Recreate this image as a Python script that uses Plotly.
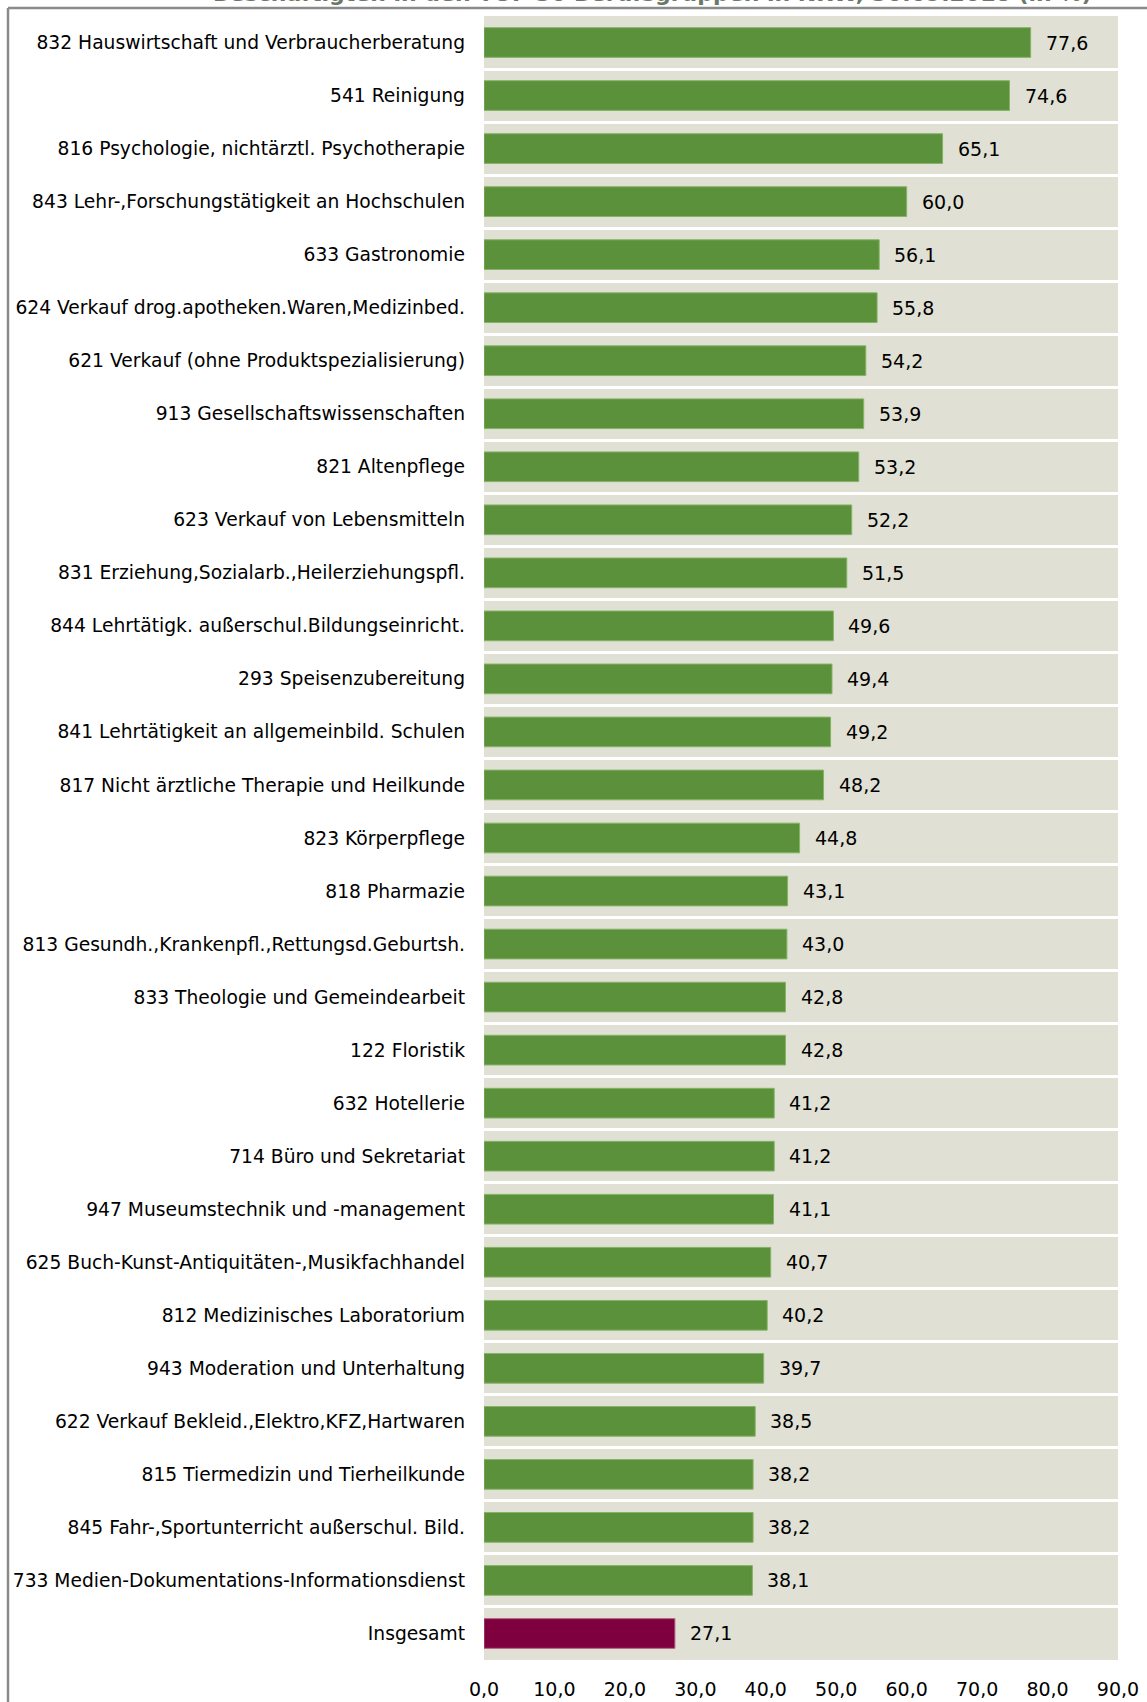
import plotly.graph_objects as go

categories = [
    "832 Hauswirtschaft und Verbraucherberatung",
    "541 Reinigung",
    "816 Psychologie, nichtärztl. Psychotherapie",
    "843 Lehr-,Forschungstätigkeit an Hochschulen",
    "633 Gastronomie",
    "624 Verkauf drog.apotheken.Waren,Medizinbed.",
    "621 Verkauf (ohne Produktspezialisierung)",
    "913 Gesellschaftswissenschaften",
    "821 Altenpflege",
    "623 Verkauf von Lebensmitteln",
    "831 Erziehung,Sozialarb.,Heilerziehungspfl.",
    "844 Lehrtätigk. außerschul.Bildungseinricht.",
    "293 Speisenzubereitung",
    "841 Lehrtätigkeit an allgemeinbild. Schulen",
    "817 Nicht ärztliche Therapie und Heilkunde",
    "823 Körperpflege",
    "818 Pharmazie",
    "813 Gesundh.,Krankenpfl.,Rettungsd.Geburtsh.",
    "833 Theologie und Gemeindearbeit",
    "122 Floristik",
    "632 Hotellerie",
    "714 Büro und Sekretariat",
    "947 Museumstechnik und -management",
    "625 Buch-Kunst-Antiquitäten-,Musikfachhandel",
    "812 Medizinisches Laboratorium",
    "943 Moderation und Unterhaltung",
    "622 Verkauf Bekleid.,Elektro,KFZ,Hartwaren",
    "815 Tiermedizin und Tierheilkunde",
    "845 Fahr-,Sportunterricht außerschul. Bild.",
    "733 Medien-Dokumentations-Informationsdienst",
    "Insgesamt",
]
values = [77.6, 74.6, 65.1, 60.0, 56.1, 55.8, 54.2, 53.9, 53.2, 52.2,
          51.5, 49.6, 49.4, 49.2, 48.2, 44.8, 43.1, 43.0, 42.8, 42.8,
          41.2, 41.2, 41.1, 40.7, 40.2, 39.7, 38.5, 38.2, 38.2, 38.1,
          27.1]
x_ticks = [0, 10, 20, 30, 40, 50, 60, 70, 80, 90]
title_text = "Beschäftigten in den TOP 30 Berufsgruppen in NRW, 30.09.2018 (in %)"

GREEN = "#5b913b"
GREEN_EDGE = "#86b366"
MAROON = "#7f003f"
MAROON_EDGE = "#b0607f"
BAND = "#e0e1d4"
FONT = "DejaVu Sans"
FS = 18.7

fill_colors = [MAROON if c == "Insgesamt" else GREEN for c in categories]
edge_colors = [MAROON_EDGE if c == "Insgesamt" else GREEN_EDGE for c in categories]

W, H = 1147, 1702
ML, MR, MT, MB = 484, 29, 16, 42
pw = W - ML - MR
ph = H - MT - MB

fig = go.Figure()
fig.add_trace(go.Bar(
    x=values, y=categories, orientation="h",
    marker=dict(color=fill_colors, line=dict(color=edge_colors, width=1)),
    hoverinfo="x+y",
))

for c, v in zip(categories, values):
    fig.add_annotation(
        x=v, y=c, xref="x", yref="y", text=f"{v:.1f}".replace(".", ","),
        showarrow=False, xanchor="left", xshift=13,
        font=dict(family=FONT, size=19, color="#000000"),
    )

def px_to_paper_x(px):
    return (px - ML) / pw

def px_to_paper_y(py):
    return 1 - (py - MT) / ph

# frame lines (top and left) partially visible
fx = px_to_paper_x(8)
fy = px_to_paper_y(8)
fig.add_shape(type="line", xref="paper", yref="paper", x0=fx, x1=2, y0=fy, y1=fy,
              line=dict(color="#8a8a8a", width=2.5), layer="above")
fig.add_shape(type="line", xref="paper", yref="paper", x0=fx, x1=fx, y0=fy, y1=-0.2,
              line=dict(color="#8a8a8a", width=2.5), layer="above")

# title, mostly cropped off the top (as in the reference)
fig.add_annotation(
    x=px_to_paper_x(211), y=px_to_paper_y(8), xref="paper", yref="paper",
    text="<b>" + title_text + "</b>", showarrow=False, xanchor="left", yanchor="bottom",
    font=dict(family=FONT, size=22, color="#6b7866"),
)

fig.update_layout(
    template="none",
    width=W, height=H,
    margin=dict(l=ML, r=MR, t=MT, b=MB, pad=0, autoexpand=False),
    paper_bgcolor="white", plot_bgcolor=BAND,
    bargap=0.44,
    separators=",.",
    showlegend=False,
    font=dict(family=FONT, size=FS, color="#000000"),
    xaxis=dict(range=[0, 90], tickvals=x_ticks, tickformat=".1f", showgrid=False,
               zeroline=False, showline=False, ticks="", ticklabelstandoff=16,
               automargin=False,
               tickfont=dict(family=FONT, size=19, color="#000000")),
    yaxis=dict(categoryorder="array", categoryarray=categories, autorange="reversed",
               showgrid=True, gridcolor="white", gridwidth=3, tickson="boundaries",
               ticks="", showline=False, zeroline=False, ticklabelstandoff=18,
               automargin=False,
               tickfont=dict(family=FONT, size=FS, color="#000000")),
)

fig.write_html("out.html", config={"displayModeBar": False},
               post_script="document.body.style.margin='0';")
